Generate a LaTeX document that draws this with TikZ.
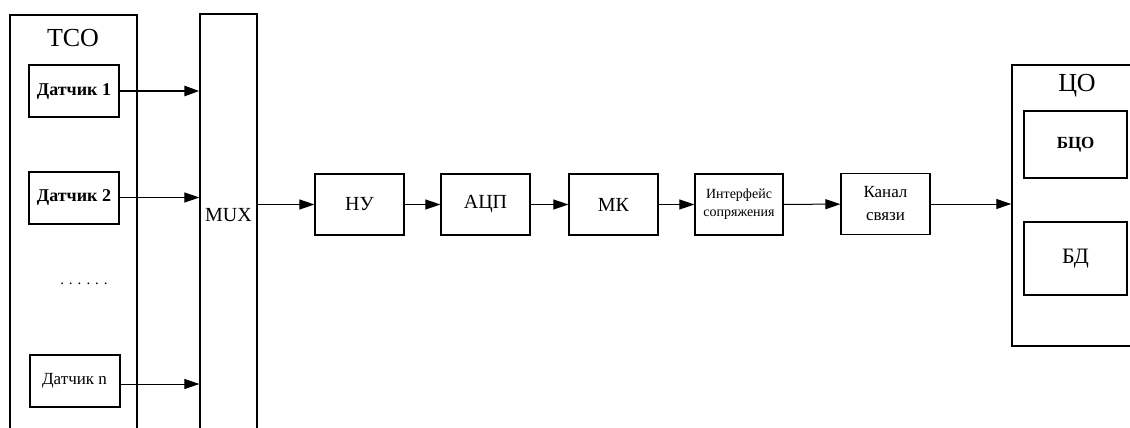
\documentclass[tikz,border=0pt]{standalone}
\usepackage{fontspec}
\setmainfont{Liberation Serif}
\usetikzlibrary{arrows.meta}
\begin{document}
\begin{tikzpicture}[x=1pt,y=-1pt,
  box/.style={draw,line width=1.2pt,inner sep=0pt,align=center},
  sensor/.style={box,line width=2pt,minimum width=90pt,minimum height=52pt,
    font=\fontsize{18}{20}\selectfont\bfseries},
  stage/.style={box,minimum width=89pt,minimum height=61pt},
  link/.style={line width=1pt,-{Triangle[length=15pt,width=10pt]}},
  big/.style={font=\fontsize{20}{22}\selectfont},
  title/.style={font=\fontsize{26}{28}\selectfont}]
\useasboundingbox (0,0) rectangle (1130,428);
\clip (0,0) rectangle (1130,428);

% sensor block and multiplexer
\node[box,line width=1.5pt,minimum width=127pt,minimum height=445pt] (tso) at (73.5,237.5) {};
\node[title] (tsol) at (73,38) {ТСО};
\node[sensor] (d1) at (74,91) {Датчик 1};
\node[sensor] (d2) at (74,197.5) {Датчик 2};
\node[font=\fontsize{15}{17}\selectfont] (dots) at (84,284) {. . . . . .};
\node[sensor,font=\fontsize{17}{19}\selectfont] (dn) at (74.5,381) {Датчик n};
\node[box,minimum width=57pt,minimum height=446pt] (mux) at (228.5,237) {};
\node[big] (muxl) at (228.5,215) {MUX};

\draw[link,line width=2.5pt] (d1.east) -- (d1.east -| mux.west);
\draw[link] (d2.east) -- (d2.east -| mux.west);
\draw[link] ([yshift=-3pt]dn.east) -- ([yshift=-3pt]dn.east -| mux.west);

% processing chain
\node[stage,big] (nu) at (359.5,204.5) {НУ};
\node[stage,big] (adc) at (485.5,204.5) {АЦП};
\node[stage,big] (mk) at (613.5,204.5) {МК};
\node[stage,minimum width=88pt,font=\fontsize{14}{18}\selectfont] (intf) at (739,204.5) {Интерфейс\\сопряжения};
\node[stage,font=\fontsize{17}{23}\selectfont] (chan) at (885.5,204) {Канал\\связи};

\draw[link] (nu.west -| mux.east) -- (nu.west);
\draw[link] (nu) -- (adc);
\draw[link] (adc) -- (mk);
\draw[link] (mk) -- (intf);
\draw[link] (intf) -- (chan);

% central unit
\node[box,line width=1.5pt,minimum width=148pt,minimum height=281pt] (co) at (1086,205.5) {};
\node[title] (col) at (1077,86) {ЦО};
\node[box,minimum width=103pt,minimum height=67pt,font=\fontsize{17}{19}\selectfont\bfseries] (bco) at (1075.5,144.5) {БЦО};
\node[box,minimum width=103pt,minimum height=73pt,font=\fontsize{22}{24}\selectfont] (bd) at (1075.5,258.5) {БД};

\draw[link] (chan.east) -- (chan.east -| co.west);
\end{tikzpicture}
\end{document}
